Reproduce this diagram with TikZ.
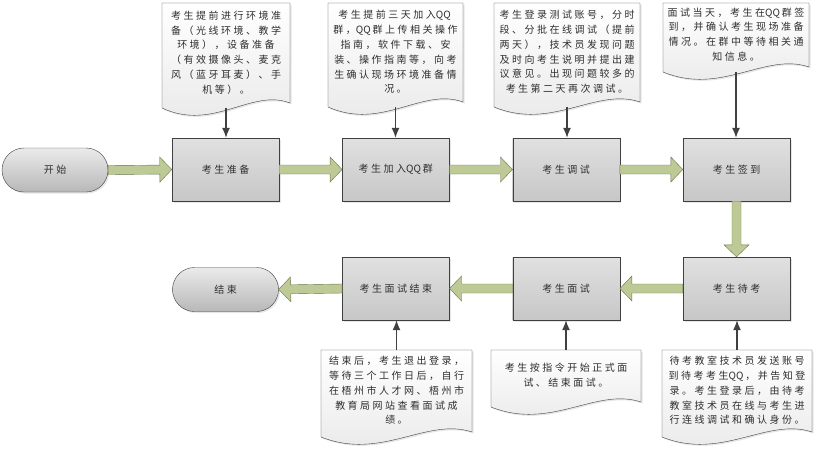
\documentclass[tikz,border=0pt]{standalone}
\usepackage{fontspec}
\newfontfamily\cjk[LetterSpace=25]{Noto Sans CJK SC}
\newfontfamily\cjkplain{Noto Sans CJK SC}
\newcommand\QQ{{\cjkplain QQ}\kern2pt}
\usetikzlibrary{arrows.meta,shapes.misc,shadows}

\definecolor{edge}{RGB}{64,64,64}
\definecolor{fatgreen}{RGB}{190,202,150}
\definecolor{fatline}{RGB}{104,116,80}

\tikzset{
  shade/.style={drop shadow={shadow xshift=1.5pt,shadow yshift=-1.5pt,opacity=.2}},
  stepbox/.style={draw=edge,shade,top color=black!12,bottom color=black!22,
    minimum width=107pt,minimum height=63pt,inner sep=0pt},
  term/.style={rounded rectangle,draw=edge,shade,top color=black!8,bottom color=black!28,
    minimum width=106pt,minimum height=44pt,inner sep=0pt},
  docfill/.style={draw=edge,shade,top color=white,bottom color=black!9},
  doctext/.style={align=center,inner sep=0pt},
  fat/.style={fill=fatgreen,draw=fatline},
  thinarrow/.style={draw=edge,line width=1.3pt,-{Latex[length=10pt,width=8pt]}}
}

% broad arrow from #1 to #2
\newcommand\fatarrow[2]{%
  \path (#1); \pgfgetlastxy{\fax}{\fay}
  \path (#2); \pgfgetlastxy{\fbx}{\fby}
  \pgfmathsetmacro\fang{atan2(\fby-\fay,\fbx-\fax)}
  \pgfmathsetmacro\flen{veclen(\fbx-\fax,\fby-\fay)}
  \draw[fat,shift={(\fax,\fay)},rotate=\fang] (0,-4.5) -- (\flen-12,-4.5) -- (\flen-12,-12.5)
    -- (\flen,0) -- (\flen-12,12.5) -- (\flen-12,4.5) -- (0,4.5) -- cycle;}

\begin{document}
\begin{tikzpicture}[x=1pt,y=1pt,font=\cjk\fontsize{10}{14.8}\selectfont,text=black!82]
\useasboundingbox (0,0) rectangle (816,-453);
\def\ytop{-169.5}
\def\ybot{-288.5}

% documents
\foreach \nm/\cx/\ty/\yb/\dw/\txt in {
  d1/226/3/108/128/{考生提前进行环境准\\备（光线环境、教学\\环境），设备准备\\（有效摄像头、麦克\\风（蓝牙耳麦）、手\\机等）。},
  d2/395.5/3/107/135/{考生提前三天加入\QQ\\群，\QQ 群上传相关操作\\指南，软件下载、安\\装、操作指南等，向考\\生确认现场环境准备情\\况。},
  d3/567/3/107/146/{考生登录测试账号，分时\\段、分批在线调试（提前\\两天），技术员发现问题\\及时向考生说明并提出建\\议意见。出现问题较多的\\考生第二天再次调试。},
  d4/736/3/72/146/{面试当天，考生在\QQ 群签\\到，并确认考生现场准备\\情况。在群中等待相关通\\知信息。},
  d5/396.5/350/437/151/{结束后，考生退出登录，\\等待三个工作日后，自行\\在梧州市人才网、梧州市\\教育局网站查看面试成\\绩。},
  d6/566/350/407/150/{考生按指令开始正式面\\试、结束面试。},
  d7/737/350/437/150/{待考教室技术员发送账号\\到待考考生\QQ，并告知登\\录。考生登录后，由待考\\教室技术员在线与考生进\\行连线调试和确认身份。}}{
  \path[docfill] (\cx-\dw/2,-\ty) -- (\cx+\dw/2,-\ty) -- (\cx+\dw/2,-\yb+5)
    .. controls (\cx+0.2*\dw,-\yb+20) and (\cx-0.1*\dw,-\yb-24) .. (\cx-\dw/2,-\yb) -- cycle;
  \node[doctext,minimum width=\dw pt,minimum height={(\yb-\ty-6)*1pt}] (\nm) at (\cx,{-(\ty+\yb-6)/2}) {\txt};
  \coordinate (\nm w) at (\cx,-\yb);
}

% process steps
\node[term] (start) at (55,-170) {开始};
\node[term] (finish) at (225.5,-289.5) {结束};
\foreach \nm/\cx/\txt in {s1/225.5/考生准备,s2/395.8/考生加入\QQ 群,s3/566.2/考生调试,s4/736.5/考生签到}
  \node[stepbox] (\nm) at (\cx,\ytop) {\txt};
\foreach \nm/\cx/\txt in {b1/395.8/考生面试结束,b2/566.2/考生面试,b3/736.5/考生待考}
  \node[stepbox] (\nm) at (\cx,\ybot) {\txt};

% flow
\fatarrow{start.east}{s1.west}
\fatarrow{s1.east}{s2.west}
\fatarrow{s2.east}{s3.west}
\fatarrow{s3.east}{s4.west}
\fatarrow{s4.south}{b3.north}
\fatarrow{b3.west}{b2.east}
\fatarrow{b2.west}{b1.east}
\fatarrow{b1.west}{finish.east}

\foreach \dn/\sn in {d1/s1,d2/s2,d3/s3,d4/s4}
  \draw[thinarrow] (\dn w) -- (\dn w |- \sn.north);
\foreach \dn/\sn in {d5/b1,d6/b2,d7/b3}
  \draw[thinarrow] (\dn.north) -- (\dn.north |- \sn.south);
\end{tikzpicture}
\end{document}
